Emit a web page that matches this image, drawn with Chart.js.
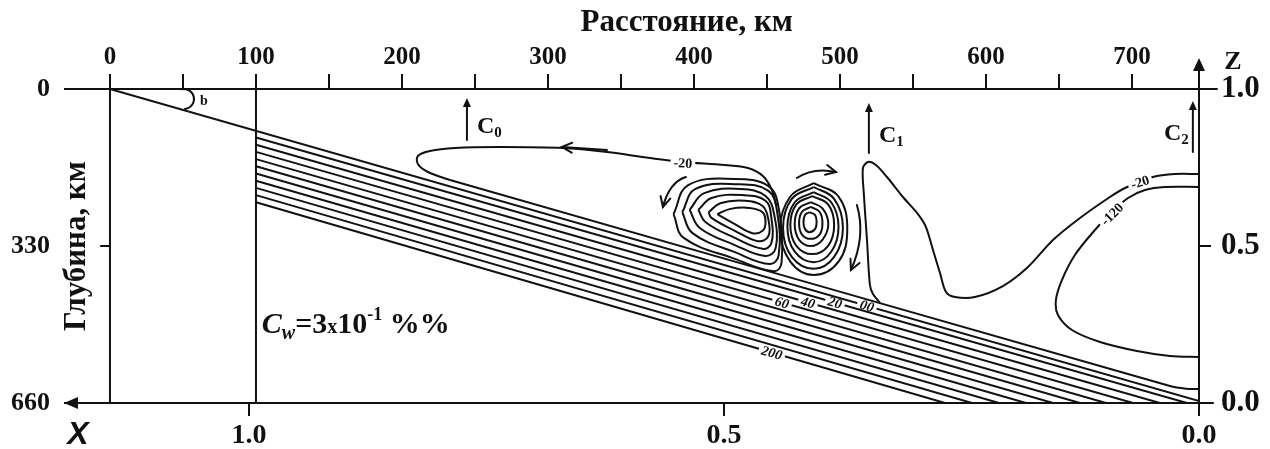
<!DOCTYPE html>
<html>
<head>
<meta charset="utf-8">
<script src="https://cdn.jsdelivr.net/npm/chart.js@4.4.0/dist/chart.umd.min.js"></script>
<style>
html, body { margin: 0; padding: 0; background: #fff; }
#wrap { width: 1270px; height: 449px; position: relative; }
</style>
</head>
<body>
<div id="wrap"><canvas id="chart"></canvas></div>
<script>
// === шкалы ===
const kmTicks = [0, 50, 100, 150, 200, 250, 300, 350, 400, 450, 500, 550, 600, 650, 700];
const depthTicks = [0, 330, 660];
const zTicks = [0, 0.5, 1];
const xTicks = [0, 0.5, 1];

// === слэб: верхняя граница и изолинии 20..200 (км, глубина км) ===
const slabTop = [[0, 0], [746, 656]];
const slabStartDepth = [101.9, 117.1, 132.2, 147.4, 162.5, 177.6, 192.8, 207.9, 223.1, 238.2]; // на 100 км
const slabEndKm = [737.6, 719.1, 700.7, 682.2, 664.4, 645.9, 627.4, 608.9, 590.4, 571.9];      // на 660 км
const walls = [[[0, 0], [0, 660]], [[100, 0], [100, 660]]];

// === изолиния -20 (левая петля + ветвь над слэбом) ===
const leftLoop20 = [[456.2, 243.8], [453.4, 212.3], [447.2, 182.9], [437.0, 166.1], [421.2, 159.8],
  [392.4, 153.4], [369.8, 145.0], [340.4, 132.4], [310.3, 124.0], [267.1, 121.9], [236.3, 124.0],
  [219.2, 130.3], [210.9, 140.8], [210.9, 157.7], [217.8, 174.5], [232.9, 191.3]];
const slabCap20 = [[232.9, 191.3], [726.0, 624.3], [737.0, 629.8], [745.9, 630.6]];

// === изолиния -20 справа (язык у C1) ===
const tongue20 = [[745.9, 178.7], [729.4, 178.7], [714.3, 185.0], [695.2, 208.1], [684.9, 227.0],
  [664.4, 271.2], [645.9, 317.4], [628.0, 376.3], [611.6, 414.1], [592.4, 437.2], [578.7, 437.2],
  [572.6, 426.7], [568.5, 386.8], [563.7, 338.4], [558.9, 290.1], [553.4, 262.8], [543.1, 227.0],
  [532.2, 185.0], [524.6, 159.8], [519.2, 153.4], [515.7, 166.1], [516.4, 222.8], [518.5, 317.4],
  [520.5, 412.0], [522.6, 430.9], [527.4, 449.8]];

// === изолиния -120 ===
const loop120 = [[745.9, 206.0], [722.6, 206.0], [708.9, 212.3], [697.3, 229.1], [684.9, 262.8],
  [674.6, 296.4], [660.9, 348.9], [652.0, 401.5], [647.9, 443.5], [649.3, 475.1], [658.9, 506.6],
  [678.1, 531.8], [703.4, 550.7], [726.0, 561.2], [745.9, 563.3]];

// === левый вихрь ===
const vortexLeft = [
  [[416, 263], [425, 252], [438, 250], [447, 259], [449, 280], [447, 298], [440, 303], [428, 284], [416, 263]],
  [[410, 259], [418, 240], [435, 235], [447, 246], [451, 275], [451, 309], [444, 320], [428, 298], [412, 271], [410, 259]],
  [[403, 254], [412, 229], [433, 223], [449, 235], [453, 271], [453, 324], [447, 336], [428, 313], [408, 280], [403, 254]],
  [[397, 254], [407, 219], [432, 210], [449, 225], [455, 265], [456, 334], [449, 351], [428, 328], [404, 292], [397, 254]],
  [[392, 259], [401, 210], [430, 200], [451, 214], [457, 259], [458, 349], [452, 368], [428, 343], [399, 303], [392, 259]],
  [[386, 263], [396, 202], [428, 189], [451, 204], [458, 250], [460, 364], [455, 383], [428, 357], [393, 313], [386, 263]]
];

// === правый вихрь ===
const vortexRight = [
  [[479, 259], [483, 265], [484, 280], [483, 294], [479, 301], [476, 294], [475, 280], [476, 265], [479, 259]],
  [[480, 248], [486, 258], [488, 282], [486, 306], [480, 315], [474, 306], [472, 282], [474, 258], [480, 248]],
  [[480, 238], [488, 251], [492, 284], [488, 317], [480, 330], [472, 317], [469, 284], [472, 251], [480, 238]],
  [[481, 225], [492, 243], [496, 286], [492, 329], [481, 347], [470, 329], [466, 286], [470, 243], [481, 225]],
  [[482, 217], [494, 238], [499, 290], [494, 342], [482, 364], [469, 342], [464, 290], [469, 238], [482, 217]],
  [[482, 206], [496, 231], [502, 292], [496, 353], [482, 378], [467, 353], [461, 292], [467, 231], [482, 206]],
  [[482, 198], [499, 226], [505, 294], [499, 363], [482, 391], [466, 363], [459, 294], [466, 226], [482, 198]]
];

// === подписи изолиний ===
const contourLabels = [
  { text: "-20", x: 392.4, y: 155.5, rot: 0.05, italic: false },
  { text: "-20", x: 705.5, y: 195.5, rot: -0.3, italic: false },
  { text: "-120", x: 686.3, y: 262.8, rot: -0.78, italic: false },
  { text: "00", x: 518.5, y: 455.6, rot: 0.28, italic: true },
  { text: "20", x: 496.6, y: 448.8, rot: 0.28, italic: true },
  { text: "40", x: 478.1, y: 448.6, rot: 0.28, italic: true },
  { text: "60", x: 460.3, y: 448.8, rot: 0.28, italic: true },
  { text: "200", x: 453.4, y: 554.1, rot: 0.28, italic: true }
];

// === стрелки течения и точки C ===
const flowArrows = [
  [[340.4, 128.2], [309.6, 121.9]],
  [[394.5, 185.0], [384.9, 206.0], [378.7, 248.0]],
  [[470.5, 187.1], [482.9, 172.4], [497.2, 174.5]],
  [[511.6, 243.8], [513.7, 311.1], [507.5, 380.5]]
];
const cMarks = [
  { km: 244.5, from: 107.2, to: 18.9, sub: "0", side: "right" },
  { km: 519.8, from: 134.5, to: 29.4, sub: "1", side: "right" },
  { km: 741.7, from: 132.4, to: 25.2, sub: "2", side: "left" }
];

const SERIF = '"Liberation Serif", "Times New Roman", serif';
const INK = "#111";

function lineDs(pts, tension) {
  return {
    data: pts.map(p => ({ x: p[0], y: p[1] })),
    borderColor: INK, borderWidth: 2, pointRadius: 0, fill: false,
    tension: tension || 0, xAxisID: "x", yAxisID: "y"
  };
}

const datasets = [];
datasets.push(lineDs(slabTop));
slabStartDepth.forEach((d, i) => datasets.push(lineDs([[100, d], [slabEndKm[i], 660]])));
walls.forEach(w => datasets.push(lineDs(w)));
datasets.push(lineDs(leftLoop20, 0.35));
datasets.push(lineDs(slabCap20, 0.2));
datasets.push(lineDs(tongue20, 0.3));
datasets.push(lineDs(loop120, 0.35));
vortexLeft.forEach(l => datasets.push(lineDs(l, 0.4)));
vortexRight.forEach(l => datasets.push(lineDs(l, 0.4)));

function head(ctx, x0, y0, x1, y1, len, half, filled) {
  const a = Math.atan2(y1 - y0, x1 - x0);
  const bx = x1 - len * Math.cos(a), by = y1 - len * Math.sin(a);
  ctx.beginPath();
  ctx.moveTo(bx + half * Math.sin(a), by - half * Math.cos(a));
  ctx.lineTo(x1, y1);
  ctx.lineTo(bx - half * Math.sin(a), by + half * Math.cos(a));
  if (filled) { ctx.closePath(); ctx.fill(); } else { ctx.stroke(); }
}

const decor = {
  id: "decor",
  afterDraw(chart) {
    const { ctx, scales } = chart;
    const X = v => scales.x.getPixelForValue(v);
    const Y = v => scales.y.getPixelForValue(v);
    const area = chart.chartArea;
    ctx.save();
    ctx.strokeStyle = INK;
    ctx.fillStyle = INK;
    ctx.lineWidth = 2;
    ctx.lineCap = "round";

    // подписи изолиний
    contourLabels.forEach(l => {
      ctx.save();
      ctx.translate(X(l.x), Y(l.y));
      ctx.rotate(l.rot);
      ctx.font = (l.italic ? "italic " : "") + "bold 14px " + SERIF;
      const w = ctx.measureText(l.text).width;
      ctx.fillStyle = "#fff";
      ctx.fillRect(-w / 2 - 3, -3, w + 6, 6);
      ctx.fillStyle = INK;
      ctx.textAlign = "center";
      ctx.textBaseline = "middle";
      ctx.fillText(l.text, 0, 1);
      ctx.restore();
    });

    // стрелки течения
    ctx.lineWidth = 2;
    flowArrows.forEach(a => {
      const p = a.map(q => [X(q[0]), Y(q[1])]);
      ctx.beginPath();
      ctx.moveTo(p[0][0], p[0][1]);
      let cx = p[0][0], cy = p[0][1];
      if (p.length === 3) {
        cx = 2 * p[1][0] - (p[0][0] + p[2][0]) / 2;
        cy = 2 * p[1][1] - (p[0][1] + p[2][1]) / 2;
        ctx.quadraticCurveTo(cx, cy, p[2][0], p[2][1]);
      } else {
        ctx.lineTo(p[1][0], p[1][1]);
      }
      ctx.stroke();
      const e = p[p.length - 1];
      head(ctx, cx, cy, e[0], e[1], 10, 5, false);
    });

    // C0, C1, C2
    cMarks.forEach(m => {
      const x = X(m.km), y0 = Y(m.from), y1 = Y(m.to);
      ctx.lineWidth = 2;
      ctx.beginPath(); ctx.moveTo(x, y0); ctx.lineTo(x, y1 + 6); ctx.stroke();
      head(ctx, x, y0, x, y1, 9, 4, true);
      ctx.font = "bold 24px " + SERIF;
      const wc = ctx.measureText("C").width;
      ctx.font = "bold 15px " + SERIF;
      const ws = ctx.measureText(m.sub).width;
      const base = (y0 + y1) / 2 + 14;
      const sx = m.side === "right" ? x + 10 : x - 4 - wc - ws;
      ctx.textAlign = "left"; ctx.textBaseline = "alphabetic";
      ctx.font = "bold 24px " + SERIF;
      ctx.fillText("C", sx, base);
      ctx.font = "bold 15px " + SERIF;
      ctx.fillText(m.sub, sx + wc, base + 4);
    });

    // угол b
    ctx.lineWidth = 2;
    ctx.beginPath();
    ctx.arc(X(50.7), Y(21), 10, -1.77, 1.47);
    ctx.stroke();
    ctx.font = "bold 14px " + SERIF;
    ctx.textAlign = "left"; ctx.textBaseline = "middle";
    ctx.fillText("b", X(50.7) + 16, Y(21) + 2);

    // засечка 330 у левой стенки
    ctx.beginPath();
    ctx.moveTo(X(0) - 9, Y(330)); ctx.lineTo(X(0), Y(330)); ctx.stroke();

    // стрелки осей
    const rx = area.right;
    ctx.beginPath(); ctx.moveTo(rx, area.top); ctx.lineTo(rx, area.top - 22); ctx.stroke();
    head(ctx, rx, area.top, rx, area.top - 31, 13, 6, true);
    head(ctx, area.left + 20, area.bottom, area.left - 1, area.bottom, 14, 6, true);
    ctx.beginPath(); ctx.moveTo(rx, area.bottom); ctx.lineTo(rx + 14, area.bottom); ctx.stroke();
    ctx.beginPath(); ctx.moveTo(rx, area.top); ctx.lineTo(rx + 18, area.top); ctx.stroke();

    // заголовки
    ctx.textAlign = "center"; ctx.textBaseline = "middle";
    ctx.font = "bold 31px " + SERIF;
    ctx.fillText("Расстояние, км", X(395), 23);
    ctx.save();
    ctx.translate(77, Y(330));
    ctx.rotate(-Math.PI / 2);
    ctx.font = "bold 31px " + SERIF;
    ctx.fillText("Глубина, км", 0, 0);
    ctx.restore();
    ctx.font = "bold 26px " + SERIF;
    ctx.fillText("Z", rx + 34, area.top - 27);
    ctx.font = 'italic bold 32px "Liberation Sans", Arial, sans-serif';
    ctx.fillText("X", 78, area.bottom + 32);

    // C_w = 3x10^-1 %%
    let tx = X(104);
    const tb = Y(512);
    ctx.textAlign = "left"; ctx.textBaseline = "alphabetic";
    const parts = [
      ["italic bold 30px ", "C", 0],
      ["italic bold 20px ", "w", 6],
      ["bold 30px ", "=3", 0],
      ["bold 20px ", "x", 0],
      ["bold 30px ", "10", 0],
      ["bold 18px ", "-1", -13],
      ["bold 30px ", " %%", 0]
    ];
    parts.forEach(([f, t, dy]) => {
      ctx.font = f + SERIF;
      ctx.fillText(t, tx, tb + dy);
      tx += ctx.measureText(t).width;
    });
    ctx.restore();
  }
};

new Chart(document.getElementById("chart"), {
  type: "line",
  data: { datasets },
  options: {
    responsive: true,
    maintainAspectRatio: false,
    animation: false,
    layout: { padding: 0 },
    plugins: { legend: { display: false }, tooltip: { enabled: false } },
    scales: {
      x: {
        type: "linear", position: "top", min: -30.8, max: 745.9,
        afterBuildTicks: s => { s.ticks = kmTicks.map(v => ({ value: v })); },
        afterFit: s => { s.height = 89; },
        ticks: {
          callback: v => (v % 100 === 0 ? String(v) : ""),
          autoSkip: false, maxRotation: 0, minRotation: 0, padding: 4, color: INK,
          font: { family: SERIF, size: 25, weight: "bold", lineHeight: 1 }
        },
        grid: { drawOnChartArea: false, drawTicks: true, tickLength: 15, color: INK, lineWidth: 2 },
        border: { display: true, color: INK, width: 2 }
      },
      x2: {
        type: "linear", position: "bottom", min: 0, max: 1.1937, reverse: true,
        afterBuildTicks: s => { s.ticks = xTicks.map(v => ({ value: v })); },
        afterFit: s => { s.height = 46; },
        ticks: {
          callback: v => v.toFixed(1),
          autoSkip: false, maxRotation: 0, minRotation: 0, padding: 6, color: INK,
          font: { family: SERIF, size: 28, weight: "bold", lineHeight: 1 }
        },
        grid: { drawOnChartArea: false, drawTicks: true, tickLength: 13, color: INK, lineWidth: 2 },
        border: { display: true, color: INK, width: 2 }
      },
      y: {
        type: "linear", position: "left", min: 0, max: 660, reverse: true,
        afterBuildTicks: s => { s.ticks = depthTicks.map(v => ({ value: v })); },
        afterFit: s => { s.width = 65; },
        ticks: {
          autoSkip: false, padding: 15, color: INK,
          font: { family: SERIF, size: 26, weight: "bold", lineHeight: 1 }
        },
        grid: { display: false, drawTicks: false },
        border: { display: false }
      },
      z: {
        type: "linear", position: "right", min: 0, max: 1,
        afterBuildTicks: s => { s.ticks = zTicks.map(v => ({ value: v })); },
        afterFit: s => { s.width = 71; },
        ticks: {
          callback: v => v.toFixed(1),
          autoSkip: false, padding: 10, color: INK,
          font: { family: SERIF, size: 31, weight: "bold", lineHeight: 1 }
        },
        grid: { drawOnChartArea: false, drawTicks: true, tickLength: 12, color: INK, lineWidth: 2 },
        border: { display: true, color: INK, width: 2 }
      }
    }
  },
  plugins: [decor]
});
</script>
</body>
</html>
